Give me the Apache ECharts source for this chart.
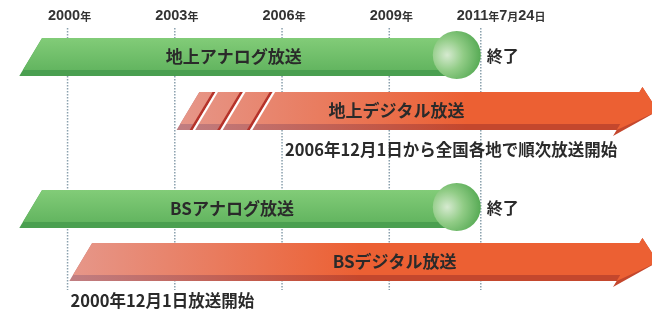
<!DOCTYPE html>
<html>
<head>
<meta charset="utf-8">
<script src="https://cdn.jsdelivr.net/npm/echarts@6/dist/echarts.min.js"></script>
<style>
  html, body { margin: 0; padding: 0; background: #fff; }
  #chart { width: 652px; height: 314px; }
</style>
</head>
<body>
<div id="chart"></div>
<script>
// 年の目盛り
const tickYears = [2000, 2003, 2006, 2009, 2011.56]
const tickLabels = ['2000年', '2003年', '2006年', '2009年', '2011年7月24日']

// 放送ごとの期間（年）
const lanes = ['地上アナログ放送', '地上デジタル放送', 'BSアナログ放送', 'BSデジタル放送']
const laneKind = ['analog', 'digital', 'analog', 'digital']
const laneStart = [1998.65, 2003.05, 1998.65, 2000.05]
const laneEnd = [2011.56, 2016.2, 2011.56, 2016.2]
const laneNote = ['終了', '2006年12月1日から全国各地で順次放送開始', '終了', '2000年12月1日放送開始']
const noteYear = [2011.56, 2006, 2011.56, 2000]
// 地上デジタルの先行部分の区切り
const laneCuts = [[], [2003.5, 2004.27, 2005.1], [], []]

// レイアウト
const X_MIN = 1998.11
const X_MAX = 2016.35
const laneTop = [38, 92, 190, 243]
const labelAt = [2004.65, 2009.2, 2004.6, 2009.15]
const BAR_H = 38
const EDGE = 6
const SHEAR = 0.6
const BALL_R = 24
const HEAD = 30
const JP = "'Noto Sans CJK JP', sans-serif"
const TEXT = '#2a2a2a'

const chart = echarts.init(document.getElementById('chart'))

const sx = (x, y, base) => [x + SHEAR * (base - y), y]

const richYear = (s) =>
  s.split(/(\d+)/).filter(p => p).map(p => (/^\d+$/.test(p) ? '{n|' + p + '}' : '{k|' + p + '}')).join('')

function renderTick(params, api) {
  const i = params.dataIndex
  const x = api.coord([api.value(0), 0])[0]
  const last = i === tickYears.length - 1
  return {
    type: 'group',
    children: [
      {
        type: 'line',
        shape: { x1: x, y1: 28, x2: x, y2: 290 },
        style: { stroke: '#8aa0ad', lineWidth: 1.5, lineDash: [1.5, 1.5] }
      },
      {
        type: 'text',
        style: {
          text: richYear(tickLabels[i]),
          x: last ? x - 24 : x + 2,
          y: 16,
          align: last ? 'left' : 'center',
          verticalAlign: 'middle',
          rich: {
            n: { fontFamily: "'Liberation Sans', sans-serif", fontWeight: 'bold', fontSize: 14.5, fill: '#333', verticalAlign: 'bottom' },
            k: { fontFamily: JP, fontWeight: 'bold', fontSize: 11, fill: '#333', verticalAlign: 'bottom', padding: [0, 0, 1, 0] }
          }
        }
      }
    ]
  }
}

function renderLane(params, api) {
  const i = params.dataIndex
  const x0 = api.coord([api.value(0), 0])[0]
  const xe = api.coord([api.value(1), 0])[0]
  const top = laneTop[i]
  const bot = top + BAR_H
  const fb = bot - EDGE
  const children = []
  const label = {
    type: 'text',
    z2: 10,
    style: {
      text: lanes[i],
      x: api.coord([labelAt[i], 0])[0],
      y: top + 19,
      align: 'center',
      verticalAlign: 'middle',
      fill: TEXT,
      font: 'bold 17px ' + JP
    }
  }

  if (laneKind[i] === 'analog') {
    const cx = xe - BALL_R
    children.push({
      type: 'polygon',
      shape: { points: [sx(x0, top, bot), [cx, top], [cx, bot], sx(x0, bot, bot)] },
      style: { fill: '#4a9f50' }
    })
    children.push({
      type: 'polygon',
      shape: { points: [sx(x0, top, bot), [cx, top], [cx, fb], sx(x0, fb, bot)] },
      style: {
        fill: {
          type: 'linear', x: 0, y: 0, x2: 0, y2: 1,
          colorStops: [{ offset: 0, color: '#82cc78' }, { offset: 1, color: '#63b560' }]
        }
      }
    })
    children.push({
      type: 'circle',
      shape: { cx: cx, cy: top + 17, r: BALL_R },
      style: {
        fill: {
          type: 'radial', x: 0.3, y: 0.5, r: 0.75,
          colorStops: [
            { offset: 0, color: '#d6ead0' },
            { offset: 0.45, color: '#91cc86' },
            { offset: 1, color: '#4fa64e' }
          ]
        }
      }
    })
    children.push(label)
    children.push({
      type: 'text',
      style: {
        text: laneNote[i],
        x: api.coord([noteYear[i], 0])[0] + 6,
        y: top + 18,
        align: 'left',
        verticalAlign: 'middle',
        fill: TEXT,
        font: 'bold 16px ' + JP
      }
    })
  } else {
    const tip = xe
    const xb = tip - HEAD
    const mid = (top + bot) / 2
    const grad = (a, b) => ({
      type: 'linear', x: x0, y: 0, x2: x0 + 290, y2: 0, global: true,
      colorStops: [{ offset: 0, color: a }, { offset: 1, color: b }]
    })
    const outline = [[x0, top], [xb, top], [xb, top - 5], [tip, mid], [xb, bot + 6], [xb, bot], [x0, bot]]
    const face = [[x0, top], [xb, top], [xb, top - 5], [tip, mid], [xb, bot], [xb, fb], [x0, fb]]
    children.push({
      type: 'polygon',
      shape: { points: outline.map(p => sx(p[0], p[1], bot)) },
      style: { fill: grad('#c07e82', '#c4472d') }
    })
    children.push({
      type: 'polygon',
      shape: { points: face.map(p => sx(p[0], p[1], bot)) },
      style: { fill: grad('#e6978a', '#ec6033') }
    })
    laneCuts[i].forEach(c => {
      const x = api.coord([c, 0])[0]
      children.push({
        type: 'polygon',
        shape: { points: [sx(x - 3, top, bot), sx(x, top, bot), sx(x, bot, bot), sx(x - 3, bot, bot)] },
        style: { fill: '#b5322a' }
      })
      children.push({
        type: 'polygon',
        shape: { points: [sx(x, top - 1, bot), sx(x + 2.5, top - 1, bot), sx(x + 2.5, bot + 1, bot), sx(x, bot + 1, bot)] },
        style: { fill: '#ffffff' }
      })
    })
    children.push(label)
    children.push({
      type: 'text',
      style: {
        text: laneNote[i],
        x: api.coord([noteYear[i], 0])[0] + 3,
        y: bot + 20,
        align: 'left',
        verticalAlign: 'middle',
        fill: TEXT,
        font: 'bold 16.5px ' + JP
      }
    })
  }
  return { type: 'group', children: children }
}

const option = {
  animation: false,
  backgroundColor: '#ffffff',
  grid: { left: 0, right: 0, top: 0, bottom: 0 },
  xAxis: { type: 'value', min: X_MIN, max: X_MAX, show: false },
  yAxis: { type: 'value', min: 0, max: 314, inverse: true, show: false },
  series: [
    {
      type: 'custom',
      z: 1,
      renderItem: renderTick,
      data: tickYears.map(v => [v, 0]),
      encode: { x: 0, y: 1 }
    },
    {
      type: 'custom',
      z: 2,
      renderItem: renderLane,
      data: lanes.map((n, i) => [laneStart[i], laneEnd[i], i]),
      encode: { x: [0, 1] }
    }
  ]
}

chart.setOption(option)
</script>
</body>
</html>
